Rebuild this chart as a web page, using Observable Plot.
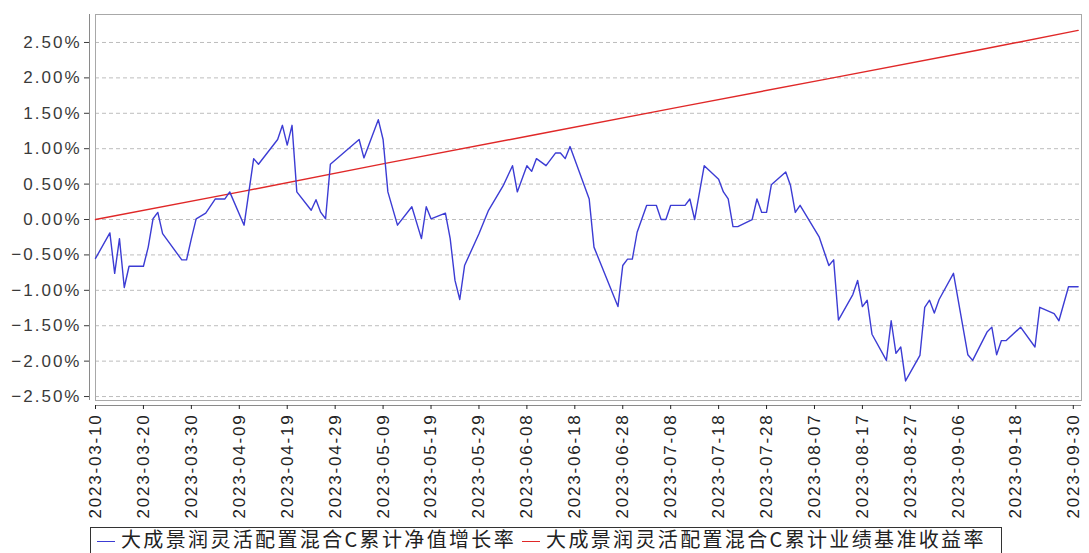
<!DOCTYPE html>
<html><head><meta charset="utf-8">
<script src="https://cdn.jsdelivr.net/npm/d3@7"></script>
<script src="https://cdn.jsdelivr.net/npm/@observablehq/plot@0.6"></script>
<style>
body{margin:0;background:#fff;font-family:"Liberation Sans",Arial,sans-serif;}
#chart{position:relative;width:1089px;height:553px;overflow:hidden;}
#chart g[aria-label="y-axis tick label"] text{letter-spacing:2px;}
#chart g[aria-label="x-axis tick label"] text{letter-spacing:1.8px;}
#legend{position:absolute;left:90px;top:527px;border:1px solid #333;border-bottom:none;padding:0 0 0 6px;width:912px;height:26px;box-sizing:border-box;white-space:nowrap;font-family:"Noto Sans CJK SC",sans-serif;font-size:20px;letter-spacing:2.35px;color:#222;line-height:20px;}
#legend span.sw{display:inline-block;width:18px;height:0;border-top:1.5px solid;vertical-align:middle;margin-right:6px;}
#legend span.item{display:inline-block;height:20px;line-height:20px;margin-right:6px;vertical-align:top;padding-top:1px;}
</style></head><body>
<div id="chart"></div>
<script>
// Fund cumulative NAV growth (%)
const navDates = ["2023-03-10","2023-03-13","2023-03-14","2023-03-15","2023-03-16","2023-03-17","2023-03-20","2023-03-21","2023-03-22","2023-03-23","2023-03-24","2023-03-28","2023-03-29","2023-03-30","2023-03-31","2023-04-02","2023-04-04","2023-04-06","2023-04-07","2023-04-10","2023-04-12","2023-04-13","2023-04-17","2023-04-18","2023-04-19","2023-04-20","2023-04-21","2023-04-24","2023-04-25","2023-04-26","2023-04-27","2023-04-28","2023-05-04","2023-05-05","2023-05-08","2023-05-09","2023-05-10","2023-05-12","2023-05-15","2023-05-17","2023-05-18","2023-05-19","2023-05-22","2023-05-23","2023-05-24","2023-05-25","2023-05-26","2023-05-29","2023-05-31","2023-06-03","2023-06-05","2023-06-06","2023-06-08","2023-06-09","2023-06-10","2023-06-12","2023-06-14","2023-06-15","2023-06-16","2023-06-17","2023-06-21","2023-06-22","2023-06-27","2023-06-28","2023-06-29","2023-06-30","2023-07-01","2023-07-03","2023-07-05","2023-07-06","2023-07-07","2023-07-08","2023-07-11","2023-07-12","2023-07-13","2023-07-15","2023-07-18","2023-07-19","2023-07-20","2023-07-21","2023-07-22","2023-07-25","2023-07-26","2023-07-27","2023-07-28","2023-07-29","2023-08-01","2023-08-02","2023-08-03","2023-08-04","2023-08-08","2023-08-10","2023-08-11","2023-08-12","2023-08-15","2023-08-16","2023-08-17","2023-08-18","2023-08-19","2023-08-22","2023-08-23","2023-08-24","2023-08-25","2023-08-26","2023-08-29","2023-08-30","2023-08-31","2023-09-01","2023-09-02","2023-09-05","2023-09-08","2023-09-09","2023-09-12","2023-09-13","2023-09-14","2023-09-15","2023-09-16","2023-09-19","2023-09-22","2023-09-23","2023-09-26","2023-09-27","2023-09-29","2023-10-01"];
const navValues = [-0.55,-0.19,-0.76,-0.27,-0.96,-0.66,-0.66,-0.39,0.01,0.10,-0.20,-0.57,-0.57,-0.27,0.01,0.09,0.29,0.29,0.39,-0.08,0.86,0.78,1.13,1.33,1.05,1.33,0.39,0.13,0.28,0.10,0.01,0.78,1.13,0.87,1.41,1.13,0.39,-0.08,0.18,-0.27,0.18,0.01,0.09,-0.27,-0.86,-1.13,-0.65,-0.20,0.13,0.47,0.76,0.39,0.76,0.68,0.86,0.76,0.94,0.94,0.86,1.03,0.29,-0.39,-1.23,-0.65,-0.56,-0.56,-0.18,0.20,0.20,0.00,0.00,0.20,0.20,0.29,0.00,0.76,0.57,0.39,0.29,-0.10,-0.10,0.00,0.29,0.10,0.10,0.49,0.67,0.48,0.10,0.20,-0.25,-0.65,-0.57,-1.42,-1.06,-0.86,-1.23,-1.14,-1.62,-1.99,-1.43,-1.89,-1.80,-2.28,-1.92,-1.24,-1.14,-1.32,-1.13,-0.76,-1.91,-1.99,-1.59,-1.52,-1.91,-1.71,-1.71,-1.52,-1.80,-1.24,-1.33,-1.43,-0.95,-0.95];

// Benchmark cumulative return (%)
const benchDates = ["2023-03-10","2023-04-10","2023-05-10","2023-06-10","2023-07-10","2023-08-10","2023-09-10","2023-10-01"];
const benchValues = [0.00,0.40,0.80,1.20,1.59,1.99,2.39,2.67];

const yTicks = [-2.5,-2,-1.5,-1,-0.5,0,0.5,1,1.5,2,2.5];
const xTickLabels = ["2023-03-10","2023-03-20","2023-03-30","2023-04-09","2023-04-19","2023-04-29","2023-05-09","2023-05-19","2023-05-29","2023-06-08","2023-06-18","2023-06-28","2023-07-08","2023-07-18","2023-07-28","2023-08-07","2023-08-17","2023-08-27","2023-09-06","2023-09-18","2023-09-30"];
const seriesNames = ["大成景润灵活配置混合C累计净值增长率","大成景润灵活配置混合C累计业绩基准收益率"];
const seriesColors = ["#3c3cd4","#e02828"];

const parse = d3.utcParse("%Y-%m-%d");
const nav = navDates.map((d,i)=>({date:parse(d), value:navValues[i]}));
const bench = benchDates.map((d,i)=>({date:parse(d), value:benchValues[i]}));
const xTicks = xTickLabels.map(parse);
const xDomain = [parse("2023-03-10"), new Date(Date.UTC(2023,9,1,17))];
const yDomain = [-2.556, 2.895];
const fmtPct = d => (d<0?"\u2212":"") + Math.abs(d).toFixed(2) + "%";

const chart = Plot.plot({
  width:1089, height:525,
  marginLeft:95, marginRight:8, marginTop:14, marginBottom:125,
  style:{fontFamily:"'Liberation Sans',Arial,sans-serif", background:"#fff"},
  x:{type:"utc", domain:xDomain, label:null},
  y:{domain:yDomain, label:null},
  marks:[
    Plot.gridY(yTicks, {stroke:"#bdbdbd", strokeOpacity:1, strokeDasharray:"4,3"}),
    Plot.frame({stroke:"#a8a8a8"}),
    Plot.ruleX([xDomain[0]], {dx:-6, stroke:"#8a8a8a"}),
    Plot.ruleY([yDomain[0]], {dy:5, stroke:"#8a8a8a"}),
    Plot.axisY(yTicks, {tickFormat:fmtPct, tickSize:5, tickPadding:3, dx:-6, fontSize:17, color:"#3a3a3a", label:null}),
    Plot.axisX(xTicks, {tickFormat:d3.utcFormat("%Y-%m-%d"), tickRotate:-90, tickSize:4, tickPadding:4, dy:5, fontSize:17, color:"#222", label:null}),
    Plot.line(bench, {x:"date", y:"value", stroke:seriesColors[1], strokeWidth:1.4}),
    Plot.line(nav, {x:"date", y:"value", stroke:seriesColors[0], strokeWidth:1.4})
  ]
});
const host = document.getElementById("chart");
host.appendChild(chart);
const legend = document.createElement("div");
legend.id = "legend";
legend.innerHTML = seriesNames.map((n,i)=>`<span class="item"><span class="sw" style="border-color:${seriesColors[i]}"></span>${n}</span>`).join("");
host.appendChild(legend);
</script>
</body></html>
